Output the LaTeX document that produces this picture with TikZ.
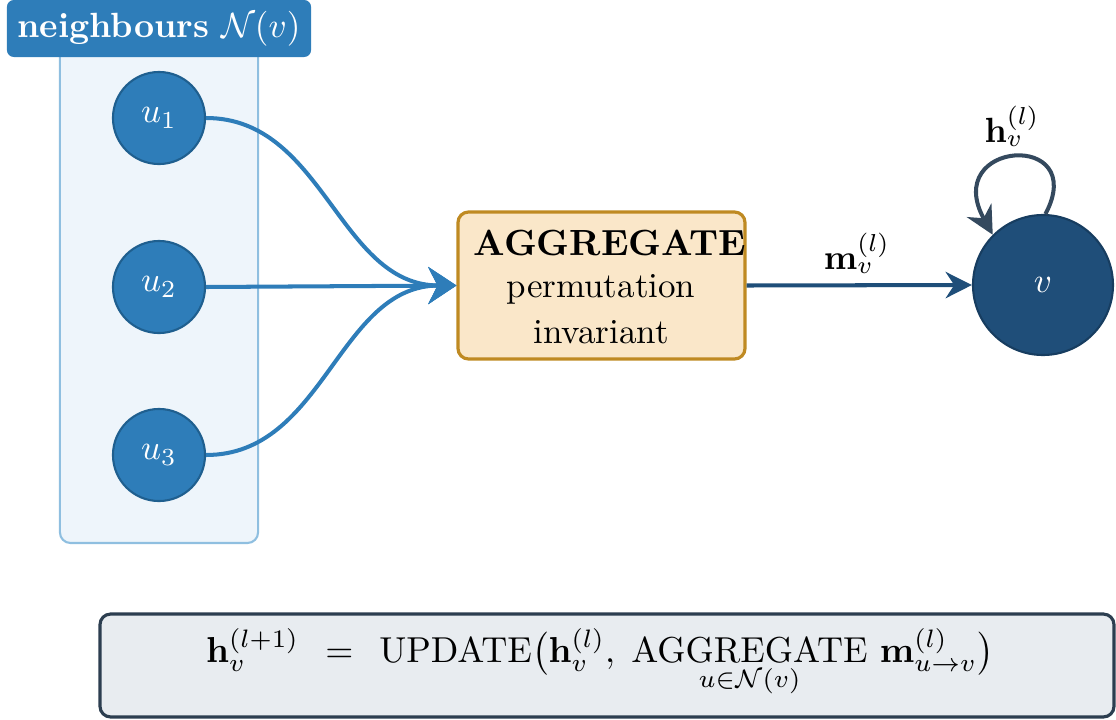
\documentclass[tikz,border=0pt]{standalone}
\usepackage{amsmath,amssymb}
\usetikzlibrary{arrows.meta}
\definecolor{nblue}{HTML}{2E7DB9}
\definecolor{nbluedark}{HTML}{1F5F8F}
\definecolor{contfill}{HTML}{EEF5FB}
\definecolor{contdraw}{HTML}{8FBFE0}
\definecolor{vblue}{HTML}{1F4E79}
\definecolor{vbluedark}{HTML}{173D60}
\definecolor{loopc}{HTML}{34495E}
\definecolor{aggfill}{HTML}{FAE7C9}
\definecolor{aggdraw}{HTML}{BF8A22}
\definecolor{formfill}{HTML}{E8ECF0}
\definecolor{formdraw}{HTML}{2C3E50}
\tikzset{
  container/.style={draw=contdraw, fill=contfill, line width=0.6pt, rounded corners=3pt, minimum width=56.6pt, minimum height=143.7pt},
  nblabel/.style={fill=nblue, rounded corners=2pt, text=white, minimum width=86.9pt, minimum height=16.3pt, inner sep=0pt},
  unode/.style={circle, fill=nblue, draw=nbluedark, line width=0.6pt, minimum size=26.3pt, inner sep=0pt, text=white},
  vnode/.style={circle, fill=vblue, draw=vbluedark, line width=0.6pt, minimum size=40pt, inner sep=0pt, text=white},
  aggbox/.style={fill=aggfill, draw=aggdraw, line width=0.9pt, rounded corners=3pt, minimum width=82pt, minimum height=42pt},
  formbox/.style={fill=formfill, draw=formdraw, line width=0.9pt, rounded corners=3pt, minimum width=289.7pt, minimum height=29.4pt},
  bluearrow/.style={draw=nblue, line width=1.15pt, -{Stealth[length=8pt,width=10.5pt]}},
  varrow/.style={draw=vblue, line width=1.15pt, -{Stealth[length=7.5pt,width=7.5pt]}},
  looparrow/.style={draw=loopc, line width=1.15pt, -{Stealth[length=8pt,width=8pt]}},
  txt/.style={inner sep=0pt}
}
\begin{document}
\begin{tikzpicture}[x=0.2857pt,y=-0.2857pt]
\useasboundingbox (0,0) rectangle (1116,720);
% neighbour container
\node[container] (nb) at (159,291.5) {};
\node[nblabel] (nbl) at (159,28.5) {\textbf{neighbours} $\mathcal{N}(v)$};
% neighbour nodes
\node[unode] (u1) at (159,118) {$u_1$};
\node[unode] (u2) at (159,287) {$u_2$};
\node[unode] (u3) at (159,455) {$u_3$};
% aggregate box
\node[aggbox] (agg) at (601.5,285.5) {};
\node[txt] (aggt) at (610,243) {\scalebox{1.04}{\textbf{AGGREGATE}}};
\node[txt] (aggp) at (601,289) {permutation};
\node[txt] (aggi) at (601,332) {invariant};
% target node
\node[vnode] (v) at (1043,285) {$v$};
% edges
\draw[bluearrow] (u1.east) to[out=0,in=180] (agg.west);
\draw[bluearrow] (u2.east) -- (agg.west);
\draw[bluearrow] (u3.east) to[out=0,in=180] (agg.west);
\draw[varrow] (agg.east) -- (v.west);
\node[txt] (mlab) at (857,253) {$\mathbf{m}_v^{(l)}$};
\draw[looparrow] (v.88) .. controls (1090,130) and (940,140) .. (v.135);
\node[txt] (hlab) at (1012,126) {$\mathbf{h}_v^{(l)}$};
% formula
\node[formbox] (fb) at (607,665.5) {};
\node[txt] (ft) at (600,663) {\scalebox{1.03}{$\displaystyle \mathbf{h}_v^{(l+1)} \;\,=\;\, \mathrm{UPDATE}\bigl(\mathbf{h}_v^{(l)},\; \operatorname*{AGGREGATE}_{u\in\mathcal{N}(v)} \,\mathbf{m}_{u\to v}^{(l)}\bigr)$}};
\end{tikzpicture}
\end{document}
